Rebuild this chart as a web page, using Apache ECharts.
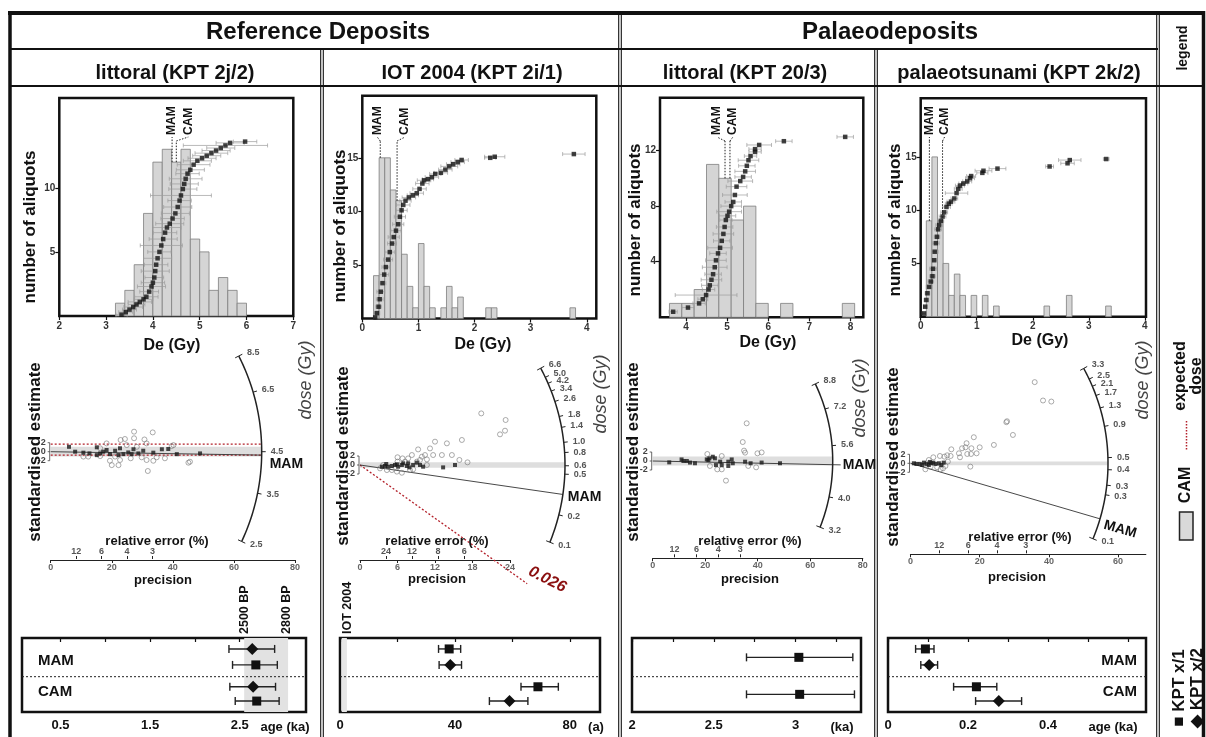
<!DOCTYPE html>
<html>
<head>
<meta charset="utf-8">
<title>De distributions, radial plots and ages</title>
<script src="https://cdn.jsdelivr.net/npm/echarts@6.0.0/dist/echarts.min.js"></script>
<style>
html,body{margin:0;padding:0;background:#fff;}
#chart{width:1206px;height:737px;}
</style>
</head>
<body>
<div id="chart"></div>
<script>
const FONT = '"Liberation Sans", Arial, Helvetica, sans-serif';
const INK = '#111';

// ---------- histograms: [bin start, bin end, aliquots] ----------
const histKPT2j2 = [[3.2,3.4,1],[3.4,3.6,2],[3.6,3.8,4],[3.8,4.0,8],[4.0,4.2,12],[4.2,4.4,13],[4.4,4.6,12],[4.6,4.8,13],[4.8,5.0,6],[5.0,5.2,5],[5.2,5.4,2],[5.4,5.6,3],[5.6,5.8,2],[5.8,6.0,1]];
const histKPT2i1 = [[0.2,0.3,4],[0.3,0.4,15],[0.4,0.5,15],[0.5,0.6,12],[0.6,0.7,11],[0.7,0.8,6],[0.8,0.9,3],[0.9,1.0,1],[1.0,1.1,7],[1.1,1.2,3],[1.2,1.3,1],[1.4,1.5,1],[1.5,1.6,3],[1.6,1.7,1],[1.7,1.8,2],[2.2,2.3,1],[2.3,2.4,1],[3.7,3.8,1]];
const histKPT203 = [[3.6,3.9,1],[3.9,4.2,1],[4.2,4.5,2],[4.5,4.8,11],[4.8,5.1,10],[5.1,5.4,7],[5.4,5.7,8],[5.7,6.0,1],[6.3,6.6,1],[7.8,8.1,1]];
const histKPT2k2 = [[0.1,0.2,9],[0.2,0.3,15],[0.3,0.4,9],[0.4,0.5,5],[0.5,0.6,2],[0.6,0.7,4],[0.7,0.8,2],[0.9,1.0,2],[1.1,1.2,2],[1.3,1.4,1],[2.2,2.3,1],[2.6,2.7,2],[3.3,3.4,1]];

// ---------- ranked De values: [De (Gy), rank position, error (Gy)] ----------
const rankKPT2j2 = [[3.33,0.1,0.12],[3.42,0.3,0.15],[3.5,0.5,0.15],[3.58,0.7,0.2],[3.65,0.9,0.18],[3.72,1.1,0.25],[3.8,1.3,0.2],[3.86,1.5,0.25],[3.92,1.9,0.2],[3.97,2.3,0.3],[4.0,2.6,0.25],[4.03,3.0,0.2],[4.05,3.5,0.3],[4.07,4.0,0.25],[4.1,4.5,0.3],[4.14,5.0,0.25],[4.18,5.5,0.45],[4.22,6.0,0.3],[4.26,6.5,0.25],[4.3,6.9,0.3],[4.36,7.2,0.3],[4.42,7.6,0.25],[4.48,8.0,0.3],[4.53,8.5,0.3],[4.57,9.0,0.25],[4.6,9.4,0.65],[4.64,9.9,0.3],[4.67,10.3,0.3],[4.7,10.7,0.35],[4.74,11.1,0.25],[4.8,11.4,0.3],[4.87,11.8,0.35],[4.95,12.1,0.3],[5.05,12.3,0.3],[5.15,12.5,0.3],[5.25,12.7,0.35],[5.35,12.9,0.3],[5.45,13.1,0.3],[5.55,13.3,0.9],[5.65,13.5,0.3],[5.97,13.6,0.25]];
const rankKPT2i1 = [[0.23,0.1,0.03],[0.26,0.5,0.05],[0.29,1.1,0.05],[0.31,1.8,0.06],[0.33,2.5,0.07],[0.36,3.3,0.06],[0.39,4.1,0.08],[0.42,4.8,0.07],[0.46,5.5,0.08],[0.49,6.2,0.09],[0.53,7.0,0.08],[0.56,7.6,0.1],[0.6,8.2,0.09],[0.64,8.8,0.1],[0.67,9.5,0.1],[0.7,10.1,0.1],[0.73,10.6,0.12],[0.77,11.0,0.1],[0.83,11.3,0.12],[0.9,11.5,0.1],[0.97,11.7,0.12],[1.02,12.1,0.12],[1.07,12.6,0.12],[1.1,12.9,0.12],[1.17,13.0,0.1],[1.24,13.2,0.12],[1.3,13.5,0.1],[1.4,13.6,0.12],[1.48,13.9,0.12],[1.55,14.2,0.15],[1.62,14.4,0.12],[1.7,14.6,0.12],[1.77,14.8,0.12],[2.28,15.0,0.1],[2.36,15.1,0.18],[3.77,15.35,0.2]];
const rankKPT203 = [[3.69,0.4,0.1],[4.05,0.7,0.15],[4.32,1.0,0.15],[4.41,1.3,0.12],[4.49,1.6,0.75],[4.55,2.0,0.15],[4.58,2.3,0.2],[4.62,2.7,0.25],[4.66,3.1,0.2],[4.7,3.6,0.3],[4.73,4.1,0.25],[4.78,4.6,0.2],[4.83,5.0,0.3],[4.87,5.5,0.2],[4.91,6.0,0.25],[4.94,6.5,0.2],[4.97,7.0,0.15],[5.01,7.3,0.2],[5.05,7.6,0.3],[5.1,8.0,0.25],[5.15,8.3,0.2],[5.19,8.8,0.3],[5.23,9.4,0.25],[5.32,9.8,0.3],[5.39,10.1,0.2],[5.44,10.5,0.25],[5.48,10.9,0.2],[5.52,11.3,0.25],[5.57,11.6,0.15],[5.68,11.9,0.15],[5.68,12.1,0.15],[5.78,12.4,0.3],[6.38,12.67,0.2],[7.87,12.98,0.2]];
const rankKPT2k2 = [[0.06,0.31,0.03],[0.08,0.94,0.03],[0.1,1.57,0.04],[0.12,2.2,0.04],[0.15,2.8,0.05],[0.18,3.3,0.05],[0.21,3.8,0.05],[0.22,4.5,0.06],[0.24,5.3,0.05],[0.25,6.1,0.06],[0.27,6.9,0.06],[0.29,7.5,0.05],[0.31,8.2,0.06],[0.33,8.6,0.06],[0.36,9.0,0.05],[0.39,9.4,0.06],[0.42,9.8,0.06],[0.46,10.3,0.07],[0.5,10.6,0.06],[0.54,10.8,0.07],[0.6,11.1,0.06],[0.64,11.6,0.2],[0.67,12.0,0.07],[0.7,12.3,0.08],[0.76,12.5,0.08],[0.83,12.7,0.08],[0.88,13.0,0.08],[0.9,13.2,0.08],[1.1,13.5,0.1],[1.12,13.7,0.15],[1.37,13.9,0.15],[2.3,14.1,0.07],[2.62,14.4,0.12],[2.66,14.7,0.2],[3.31,14.8,0.05]];

// ---------- age models, De (Gy) ----------
const mamDe = [4.41, 0.32, 4.95, 0.155];
const camDe = [4.50, 0.62, 5.07, 0.39];
const radialCentre = [4.50, 0.61, 5.07, 0.45];

// ---------- radial plots: [precision, standardised estimate] ----------
const radOpenKPT2j2 = [[27.3,8.2],[33.4,7.9],[27.3,5.5],[24.3,5.2],[22.9,4.8],[30.7,5.0],[18.3,3.4],[31.4,3.4],[40.2,2.7],[39.6,2.3],[28.2,2.0],[24.9,2.7],[16.2,1.4],[21.1,-2.0],[26.2,-2.7],[22.7,-3.4],[19.4,-3.7],[20.0,-5.5],[22.2,-5.5],[31.4,-3.4],[33.6,-3.7],[34.7,-2.3],[37.4,-2.7],[45.6,-4.1],[45.1,-4.5],[31.8,-7.9],[10.7,-2.0],[12.3,-2.0],[16.2,-1.8],[29.8,-2.3]];
const radFilledKPT2j2 = [[6.0,2.0],[8.0,0],[10.7,-0.4],[12.7,-0.7],[15.1,1.8],[16.2,-0.7],[18.3,0.7],[19.4,-1.0],[21.1,0.4],[22.7,1.4],[23.8,-1.0],[25.4,-0.3],[27.1,1.0],[28.7,-0.7],[30.3,0.4],[33.6,-0.4],[36.4,1.0],[38.5,1.1],[41.3,-1.0],[48.9,-0.7],[15.1,-1.4],[17.2,0],[22.2,-1.4],[26.5,-1.0]];
const radOpenKPT2i1 = [[19.4,36.7],[23.3,32.0],[23.2,24.4],[22.4,21.8],[12.0,16.6],[16.3,17.8],[13.9,15.4],[11.2,11.8],[11.7,7.1],[10.4,7.1],[9.9,5.9],[9.3,11.1],[8.3,7.1],[13.1,7.1],[14.7,7.1],[15.9,3.6],[17.2,1.9],[6.8,4.7],[7.7,4.7],[6.0,5.5],[6.0,2.4],[7.2,2.4],[9.1,2.4],[9.6,3.6],[10.7,4.0],[3.7,0],[4.3,-3.6],[5.1,-3.6],[5.9,-4.7],[6.7,-5.5],[8.0,-3.6],[8.5,-3.1],[10.7,0],[3.2,-2.4]];
const radFilledKPT2i1 = [[3.5,-1.2],[4.0,-0.7],[4.5,-1.2],[5.1,-0.7],[5.6,0],[6.1,-1.2],[6.7,0],[7.5,-0.7],[7.7,1.2],[8.5,0],[9.1,1.7],[9.6,0],[10.1,-1.2],[13.3,-1.7],[15.2,0],[5.9,0.5],[4.2,0.7],[6.9,1.2],[7.9,-1.7]];
const radOpenKPT203 = [[35.8,16.7],[34.3,8.4],[34.8,4.6],[35.2,3.7],[39.9,3.4],[41.5,3.8],[20.8,3.1],[26.3,2.2],[27.9,-8.7],[39.4,-2.8],[36.4,-2.2],[24.6,-3.7],[26.3,-3.7],[21.8,-2.2]];
const radFilledKPT203 = [[6.3,-0.6],[11.0,0.7],[11.7,0],[14.2,-0.7],[16.1,-1.0],[20.6,0.7],[21.6,1.2],[22.9,1.9],[23.7,1.2],[24.1,-1.8],[25.7,-0.3],[26.3,-1.8],[28.8,-2.2],[30.1,0.7],[30.5,-1.0],[35.2,-0.3],[37.3,-1.0],[41.5,-0.7],[48.5,-1.0],[21.2,0.4],[28.8,-0.3],[13.0,0]];
const radOpenKPT2k2 = [[35.9,85.3],[38.3,66.0],[40.7,64.9],[27.7,43.2],[27.9,44.2],[29.6,29.8],[18.3,27.4],[24.1,19.3],[16.2,21.1],[15.9,16.8],[17.6,15.8],[20.0,16.8],[19.1,10.5],[17.5,9.8],[16.4,9.8],[14.9,15.8],[14.0,10.5],[14.3,6.3],[11.8,14.7],[10.6,8.4],[11.6,7.7],[9.8,7.0],[8.5,7.7],[6.6,6.3],[5.3,3.5],[17.3,-3.5],[9.4,-5.3],[8.7,-6.3],[7.7,-4.2],[5.8,-3.5],[4.3,-6.3],[10.1,-2.8],[10.8,1.8]];
const radFilledKPT2k2 = [[1.0,0],[1.7,-0.7],[2.7,-0.7],[3.4,-1.8],[3.9,0.7],[4.6,-0.7],[5.3,-1.8],[6.0,0],[6.6,0.7],[7.2,-0.7],[8.2,0],[8.9,-1.8],[9.6,0.7],[5.6,1.4]];

// dose axis (Gy) on the radial arcs
const doseTicks1 = [8.5, 6.5, 4.5, 3.5, 2.5];
const doseTicks2 = [6.6, 5.0, 4.2, 3.4, 2.6, 1.8, 1.4, 1.0, 0.8, 0.6, 0.5, 0.2, 0.1];
const doseTicks3 = [8.8, 7.2, 5.6, 4.0, 3.2];
const doseTicks4 = [3.3, 2.5, 2.1, 1.7, 1.3, 0.9, 0.5, 0.4, 0.3, 0.25, 0.1];
// relative error (%) and precision ticks
const relErrTicks = [[12, 6, 4, 3], [24, 12, 8, 6], [12, 6, 4, 3], [12, 6, 4, 3]];
const precisionTicks = [[0, 20, 40, 60, 80], [0, 6, 12, 18, 24], [0, 20, 40, 60, 80], [0, 20, 40, 60]];
// expected dose
const expectedBandKPT2j2 = [3.1, -1.4];   // standardised estimate of the band edges
const expectedDoseIOT = 0.026;            // Gy

// histogram tick labels
const histXLabels = [[2, 3, 4, 5, 6, 7], [0, 1, 2, 3, 4], [4, 5, 6, 7, 8], [0, 1, 2, 3, 4]];
const histYLabels = [[5, 10], [5, 10, 15], [4, 8, 12], [5, 10, 15]];

// ---------- ages: [age, lower, upper] for MAM and CAM ----------
const ageKPT2j_x1 = [[2.68, 2.42, 2.92], [2.69, 2.45, 2.94]];   // ka
const ageKPT2j_x2 = [[2.64, 2.38, 2.89], [2.65, 2.39, 2.90]];
const ageKPT2i_x1 = [[38.0, 34.3, 42.0], [68.9, 63.0, 76.0]];   // a
const ageKPT2i_x2 = [[38.4, 34.5, 42.3], [59.0, 52.0, 65.4]];
const ageKPT20_x1 = [[3.02, 2.70, 3.35], [3.025, 2.70, 3.36]];  // ka
const ageKPT2k_x1 = [[0.0935, 0.069, 0.115], [0.221, 0.164, 0.272]]; // ka
const ageKPT2k_x2 = [[0.103, 0.082, 0.124], [0.277, 0.219, 0.334]];
const refPeriodKa = [2.55, 3.04];
const refPeriodLabels = ['2500 BP', '2800 BP'];
const iotEventYears = [0.6, 2.4];
const ageTickLabels = [[0.5, 1.5, 2.5], [0, 40, 80], [2, 2.5, 3], [0, 0.2, 0.4]];
const ageTicks = [[0.5, 1, 1.5, 2, 2.5, 3], [0, 20, 40, 60, 80], [2, 2.25, 2.5, 2.75, 3, 3.25], [0, 0.1, 0.2, 0.3, 0.4, 0.5, 0.6]];

// ---------- layout ----------
const histLayout = [
  {left: 59.3, top: 98, width: 234, height: 218, xMin: 2, xMax: 7, yMax: 17, mamDx: 0, camDx: 12},
  {left: 362.3, top: 95.7, width: 234, height: 222.8, xMin: 0, xMax: 4.17, yMax: 20.8, mamDx: -3, camDx: 8},
  {left: 660, top: 97.7, width: 203.3, height: 219.6, xMin: 3.37, xMax: 8.31, yMax: 15.8, mamDx: -8, camDx: 3},
  {left: 920.7, top: 98.3, width: 225.3, height: 218.4, xMin: 0, xMax: 4.02, yMax: 20.5, mamDx: 0, camDx: 2}
];
const radialLayout = [
  {ox: 50.7, oy: 451.7, sx: 3.054, k: 0.8, xMax: 80, yExt: 45, R: 211, axisY: 560, mamExt: 0, mamDx: 8, mamDy: 9, mamRot: 0},
  {ox: 360, oy: 465, sx: 6.25, k: 0.225, xMax: 24, yExt: 80, R: 205, axisY: 560, mamExt: 0, mamDx: 5, mamDy: 3, mamRot: 0},
  {ox: 652.7, oy: 461, sx: 2.625, k: 0.86, xMax: 80, yExt: 50, R: 180, axisY: 558.3, mamExt: 8, mamDx: 10, mamDy: 0, mamRot: 0},
  {ox: 910.5, oy: 463.3, sx: 3.46, k: 0.275, xMax: 68, yExt: 120, R: 197.5, axisY: 554.3, mamExt: 0, mamDx: 4, mamDy: 6, mamRot: -0.27}
];
const ageLayout = [
  {left: 22, width: 284, xMin: 0.07, xMax: 3.24, slots1: [1.6, 3.75], slots2: [0.65, 2.9]},
  {left: 340, width: 260, xMin: 0, xMax: 90.5, slots1: [0.65, 2.9], slots2: [1.6, 3.75]},
  {left: 632, width: 229, xMin: 2, xMax: 3.4, slots1: [1.15, 3.35], slots2: []},
  {left: 888, width: 258, xMin: 0, xMax: 0.645, slots1: [0.65, 2.9], slots2: [1.6, 3.75]}
];
const AGE_TOP = 638, AGE_H = 74, AGE_ROWS = 4.4, AGE_SPLIT = 2.3;

const histPanels = [
  {bins: histKPT2j2, rank: rankKPT2j2},
  {bins: histKPT2i1, rank: rankKPT2i1},
  {bins: histKPT203, rank: rankKPT203},
  {bins: histKPT2k2, rank: rankKPT2k2}
];
const radialPanels = [
  {open: radOpenKPT2j2, filled: radFilledKPT2j2, ticks: doseTicks1, expectedBand: expectedBandKPT2j2},
  {open: radOpenKPT2i1, filled: radFilledKPT2i1, ticks: doseTicks2, expectedDose: expectedDoseIOT},
  {open: radOpenKPT203, filled: radFilledKPT203, ticks: doseTicks3},
  {open: radOpenKPT2k2, filled: radFilledKPT2k2, ticks: doseTicks4}
];
const agePanels = [
  {x1: ageKPT2j_x1, x2: ageKPT2j_x2},
  {x1: ageKPT2i_x1, x2: ageKPT2i_x2},
  {x1: ageKPT20_x1, x2: []},
  {x1: ageKPT2k_x1, x2: ageKPT2k_x2}
];

// ---------- helpers ----------
function ln(x1, y1, x2, y2, stroke, w, dash) {
  return {type: 'line', shape: {x1, y1, x2, y2}, style: {stroke, lineWidth: w, lineDash: dash || null}};
}
function tx(x, y, text, font, o) {
  o = o || {};
  const a = o.align || 'center', v = o.va || 'middle';
  return {type: 'text', x, y, rotation: o.rot || 0, z: o.z || 100, silent: true,
    style: {text, font, fill: o.fill || INK, align: a, verticalAlign: v, textAlign: a, textVerticalAlign: v}};
}

const grid = [], xAxis = [], yAxis = [], series = [];
function addGrid(g) {
  grid.push(Object.assign({containLabel: false, outerBoundsMode: 'none'}, g));
  return grid.length - 1;
}

// ---------- histograms with ranked De ----------
histPanels.forEach((h, i) => {
  const L = histLayout[i];
  const gi = addGrid({left: L.left, top: L.top, width: L.width, height: L.height, show: true,
    borderColor: INK, borderWidth: 2.5, backgroundColor: 'transparent'});
  const xi = xAxis.length, yi = yAxis.length;
  xAxis.push({gridIndex: gi, type: 'value', min: L.xMin, max: L.xMax, splitLine: {show: false},
    axisLine: {show: false},
    axisTick: {show: true, length: 4, customValues: histXLabels[i], lineStyle: {color: INK, width: 1.2}},
    axisLabel: {customValues: histXLabels[i], fontFamily: FONT, fontWeight: 'bold', fontSize: 10, color: '#333', margin: 5}});
  yAxis.push({gridIndex: gi, type: 'value', min: 0, max: L.yMax, splitLine: {show: false},
    axisLine: {show: false},
    axisTick: {show: true, length: 4, customValues: histYLabels[i], lineStyle: {color: INK, width: 1.2}},
    axisLabel: {customValues: histYLabels[i], fontFamily: FONT, fontWeight: 'bold', fontSize: 10, color: '#333', margin: 4}});

  series.push({type: 'custom', xAxisIndex: xi, yAxisIndex: yi, data: h.bins, z: 2, silent: true,
    renderItem: (p, api) => {
      const a = api.coord([api.value(0), api.value(2)]);
      const b = api.coord([api.value(1), 0]);
      return {type: 'rect', shape: {x: a[0], y: a[1], width: b[0] - a[0], height: b[1] - a[1]},
        style: {fill: '#d5d5d5', stroke: '#7d7d7d', lineWidth: 0.8}};
    }});
  series.push({type: 'custom', xAxisIndex: xi, yAxisIndex: yi, data: h.rank, z: 3, silent: true,
    renderItem: (p, api) => {
      const de = api.value(0), y = api.value(1), e = api.value(2);
      const l = api.coord([de - e, y]), r = api.coord([de + e, y]);
      const st = {stroke: '#9c9c9c', lineWidth: 0.7};
      return {type: 'group', children: [
        {type: 'line', shape: {x1: l[0], y1: l[1], x2: r[0], y2: r[1]}, style: st},
        {type: 'line', shape: {x1: l[0], y1: l[1] - 2, x2: l[0], y2: l[1] + 2}, style: st},
        {type: 'line', shape: {x1: r[0], y1: r[1] - 2, x2: r[0], y2: r[1] + 2}, style: st}
      ]};
    }});
  series.push({type: 'scatter', xAxisIndex: xi, yAxisIndex: yi, data: h.rank.map(d => [d[0], d[1]]),
    symbol: 'rect', symbolSize: 4.5, itemStyle: {color: '#111'}, z: 4, silent: true, animation: false});

  // MAM / CAM markers
  const marks = [[mamDe[i], 'MAM', L.mamDx], [camDe[i], 'CAM', L.camDx]];
  series.push({type: 'custom', xAxisIndex: xi, yAxisIndex: yi, data: marks.map(m => [m[0]]), z: 5, silent: true,
    renderItem: (p, api) => {
      const m = marks[p.dataIndex];
      const v = m[0];
      const bin = h.bins.find(b => v >= b[0] && v < b[1]);
      const base = api.coord([v, bin ? bin[2] : 0]);
      const kinkY = 141, lx = base[0] + m[2];
      const dash = [1.5, 1.5];
      return {type: 'group', children: [
        ln(base[0], base[1], base[0], kinkY, '#222', 1, dash),
        ln(base[0], kinkY, lx, kinkY - 4, '#222', 1, dash),
        {type: 'text', x: lx, y: kinkY - 6, rotation: Math.PI / 2,
          style: {text: m[1], font: 'bold 12px ' + FONT, fill: INK, align: 'left', verticalAlign: 'middle', textAlign: 'left', textVerticalAlign: 'middle'}}
      ]};
    }});
});

// ---------- radial plots ----------
function radialFrame(L, P, centre, mam) {
  return function (params, api) {
    const o = api.coord([0, 0]);
    const sxPx = api.coord([1, 0])[0] - o[0];
    const dir = D => {
      const q = api.coord([1, Math.log(D / centre)]);
      const dx = q[0] - o[0], dy = q[1] - o[1], n = Math.hypot(dx, dy);
      return [dx / n, dy / n];
    };
    const at = (u, r) => [o[0] + u[0] * r, o[1] + u[1] * r];
    const R = L.R, xEnd = R / sxPx, kids = [];

    kids.push({type: 'polygon', shape: {points: [api.coord([0, 2]), api.coord([xEnd, 2]), api.coord([xEnd, -2]), api.coord([0, -2])]},
      style: {fill: '#dedede'}});

    if (P.expectedBand) {
      P.expectedBand.forEach(v => {
        const a = api.coord([0, v]), b = api.coord([xEnd, v]);
        kids.push(ln(a[0], a[1], b[0], b[1], '#b3202a', 1.3, [2, 2]));
      });
    }
    if (P.expectedDose) {
      const u = dir(P.expectedDose), e = at(u, R), t = at(u, R + 14);
      kids.push(ln(o[0], o[1], e[0], e[1], '#b3202a', 1.3, [2, 2]));
      // label sits just above the end of the dotted line
      kids.push({type: 'text', x: t[0] + u[1] * 15, y: t[1] - u[0] * 15, rotation: -Math.atan2(u[1], u[0]) * 0.75,
        style: {text: String(P.expectedDose), font: 'italic bold 16px ' + FONT, fill: '#8b1010',
          align: 'center', verticalAlign: 'middle', textAlign: 'center', textVerticalAlign: 'middle'}});
    }

    const um = dir(mam), me = at(um, R + L.mamExt), ma = at(um, R);
    kids.push(ln(o[0], o[1], me[0], me[1], '#333', 0.9));
    kids.push({type: 'text', x: ma[0] + L.mamDx, y: ma[1] + L.mamDy, rotation: L.mamRot,
      style: {text: 'MAM', font: 'bold 14px ' + FONT, fill: INK, align: 'left', verticalAlign: 'middle', textAlign: 'left', textVerticalAlign: 'middle'}});

    // dose arc
    const u1 = dir(P.ticks[0]), u2 = dir(P.ticks[P.ticks.length - 1]);
    const a1 = Math.atan2(u1[1], u1[0]), a2 = Math.atan2(u2[1], u2[0]);
    const pts = [];
    for (let s = 0; s <= 60; s++) {
      const a = a1 + (a2 - a1) * s / 60;
      pts.push([o[0] + R * Math.cos(a), o[1] + R * Math.sin(a)]);
    }
    kids.push({type: 'polyline', shape: {points: pts}, style: {stroke: '#222', lineWidth: 1.5, fill: null}});
    P.ticks.forEach((D, j) => {
      const u = dir(D), a = at(u, R), b = at(u, R + 4), t = at(u, R + 8);
      kids.push(ln(a[0], a[1], b[0], b[1], '#222', 1));
      if (j === 0 || j === P.ticks.length - 1) {
        const c = at(u, R - 4);
        kids.push(ln(a[0], a[1], c[0], c[1], '#222', 1));
      }
      kids.push({type: 'text', x: t[0] + 1, y: t[1],
        style: {text: D.toFixed(1), font: 'bold 9px ' + FONT, fill: '#555', align: 'left', verticalAlign: 'middle', textAlign: 'left', textVerticalAlign: 'middle'}});
    });

    // z-scale at the origin
    kids.push(ln(o[0] - 1, o[1] - 9, o[0] - 1, o[1] + 9, '#444', 0.8));
    [[2, -9], [0, 0], [-2, 9]].forEach(z => {
      kids.push(ln(o[0] - 3, o[1] + z[1], o[0] - 1, o[1] + z[1], '#444', 0.8));
      kids.push({type: 'text', x: o[0] - 5, y: o[1] + z[1],
        style: {text: String(z[0]), font: 'bold 9px ' + FONT, fill: '#444', align: 'right', verticalAlign: 'middle', textAlign: 'right', textVerticalAlign: 'middle'}});
    });
    return {type: 'group', children: kids};
  };
}

radialPanels.forEach((P, i) => {
  const L = radialLayout[i];
  const sy = L.k * L.sx;
  const gi = addGrid({left: L.ox, top: L.oy - L.yExt * sy, width: L.xMax * L.sx, height: 2 * L.yExt * sy});
  const xi = xAxis.length, yi = yAxis.length;
  xAxis.push({gridIndex: gi, type: 'value', min: 0, max: L.xMax, show: false});
  yAxis.push({gridIndex: gi, type: 'value', min: -L.yExt, max: L.yExt, show: false});
  series.push({type: 'custom', xAxisIndex: xi, yAxisIndex: yi, data: [[0, 0]], z: 2, silent: true,
    renderItem: radialFrame(L, P, radialCentre[i], mamDe[i])});
  series.push({type: 'scatter', xAxisIndex: xi, yAxisIndex: yi, data: P.open, symbol: 'circle', symbolSize: 5,
    itemStyle: {color: 'rgba(255,255,255,0)', borderColor: '#7a7a7a', borderWidth: 0.8}, z: 3, silent: true});
  series.push({type: 'scatter', xAxisIndex: xi, yAxisIndex: yi, data: P.filled, symbol: 'rect', symbolSize: 4,
    itemStyle: {color: '#1a1a1a'}, z: 4, silent: true});

  // precision axis with relative error above it
  const gb = addGrid({left: L.ox, top: L.axisY - 1, width: L.xMax * L.sx, height: 1});
  const rel = relErrTicks[i].map(r => 100 / r);
  xAxis.push({gridIndex: gb, type: 'value', min: 0, max: L.xMax, position: 'bottom', splitLine: {show: false},
    axisLine: {show: true, lineStyle: {color: '#222', width: 1.2}},
    axisTick: {show: true, length: 3, customValues: precisionTicks[i], lineStyle: {color: '#222'}},
    axisLabel: {customValues: precisionTicks[i], fontFamily: FONT, fontSize: 9, fontWeight: 'bold', color: '#666', margin: 3}});
  xAxis.push({gridIndex: gb, type: 'value', min: 0, max: L.xMax, position: 'top', splitLine: {show: false},
    axisLine: {show: false},
    axisTick: {show: true, length: 3, customValues: rel, lineStyle: {color: '#222'}},
    axisLabel: {customValues: rel, formatter: v => String(Math.round(100 / v)), fontFamily: FONT, fontSize: 9, fontWeight: 'bold', color: '#555', margin: 3}});
  yAxis.push({gridIndex: gb, type: 'value', min: 0, max: 1, show: false});
});

// ---------- ages ----------
function ageSeries(xi, yi, data, slots, shape) {
  return {type: 'custom', xAxisIndex: xi, yAxisIndex: yi, data, z: 6, silent: true,
    renderItem: (p, api) => {
      const s = slots[p.dataIndex];
      const c = api.coord([api.value(0), s]), l = api.coord([api.value(1), s]), r = api.coord([api.value(2), s]);
      const st = {stroke: '#222', lineWidth: 1.4};
      const kids = [
        {type: 'line', shape: {x1: l[0], y1: c[1], x2: r[0], y2: c[1]}, style: st},
        {type: 'line', shape: {x1: l[0], y1: c[1] - 4, x2: l[0], y2: c[1] + 4}, style: st},
        {type: 'line', shape: {x1: r[0], y1: c[1] - 4, x2: r[0], y2: c[1] + 4}, style: st}
      ];
      if (shape === 'square') {
        kids.push({type: 'rect', shape: {x: c[0] - 4.5, y: c[1] - 4.5, width: 9, height: 9}, style: {fill: '#111'}});
      } else {
        kids.push({type: 'polygon', shape: {points: [[c[0], c[1] - 6], [c[0] + 6, c[1]], [c[0], c[1] + 6], [c[0] - 6, c[1]]]}, style: {fill: '#111'}});
      }
      return {type: 'group', children: kids};
    }};
}

agePanels.forEach((A, i) => {
  const L = ageLayout[i];
  const gi = addGrid({left: L.left, top: AGE_TOP, width: L.width, height: AGE_H, show: true,
    borderColor: INK, borderWidth: 2.5, backgroundColor: 'transparent'});
  const xi = xAxis.length, yi = yAxis.length;
  xAxis.push({gridIndex: gi, type: 'value', min: L.xMin, max: L.xMax, splitLine: {show: false},
    axisLine: {show: false},
    axisTick: {show: true, length: 4, customValues: ageTicks[i], lineStyle: {color: INK, width: 1.2}},
    axisLabel: {customValues: ageTickLabels[i], fontFamily: FONT, fontWeight: 'bold', fontSize: 13, color: INK, margin: 7}});
  yAxis.push({gridIndex: gi, type: 'value', min: 0, max: AGE_ROWS, inverse: true, show: false});

  // MAM | CAM separator
  series.push({type: 'custom', xAxisIndex: xi, yAxisIndex: yi, data: [[L.xMin, AGE_SPLIT]], z: 3, silent: true,
    renderItem: (p, api) => {
      const a = api.coord([L.xMin, AGE_SPLIT]), b = api.coord([L.xMax, AGE_SPLIT]);
      return ln(a[0], a[1], b[0], b[1], '#222', 1, [2, 2]);
    }});
  series.push(ageSeries(xi, yi, A.x1, L.slots1, 'square'));
  if (A.x2.length) series.push(ageSeries(xi, yi, A.x2, L.slots2, 'diamond'));

  if (i === 0 || i === 1) {
    const band = i === 0 ? refPeriodKa : iotEventYears;
    series.push({type: 'custom', xAxisIndex: xi, yAxisIndex: yi, data: [band], z: 1, silent: true,
      renderItem: (p, api) => {
        const a = api.coord([band[0], 0]), b = api.coord([band[1], AGE_ROWS]);
        const kids = [{type: 'rect', shape: {x: a[0], y: a[1], width: b[0] - a[0], height: b[1] - a[1]},
          style: {fill: i === 0 ? '#e2e2e2' : '#e6e6e6'}}];
        const lab = (x, s) => ({type: 'text', x, y: AGE_TOP - 4, rotation: Math.PI / 2,
          style: {text: s, font: 'bold 12.5px ' + FONT, fill: INK, align: 'left', verticalAlign: 'middle', textAlign: 'left', textVerticalAlign: 'middle'}});
        if (i === 0) {
          kids.push(lab(a[0], refPeriodLabels[0]));
          kids.push(lab(b[0] - 2, refPeriodLabels[1]));
        } else {
          kids.push(lab((a[0] + b[0]) / 2 + 3, 'IOT 2004'));
        }
        return {type: 'group', children: kids};
      }});
  }
});

// ---------- table frame and static text ----------
const g = [];
const push = e => g.push(Object.assign({z: 100, silent: true}, e));
function hLine(x1, x2, y, w) { push(ln(x1, y, x2, y, INK, w)); }
function vDouble(x, y1, y2) { push(ln(x - 1.3, y1, x - 1.3, y2, INK, 1.1)); push(ln(x + 1.3, y1, x + 1.3, y2, INK, 1.1)); }
hLine(8, 1205, 13, 4);
push(ln(10, 11, 10, 737, INK, 3.5));
push(ln(1203.5, 11, 1203.5, 737, INK, 3.5));
hLine(10, 1158, 49, 1.8);
hLine(10, 1203, 86, 2.2);
vDouble(322, 49, 737);
vDouble(620, 13, 737);
vDouble(876, 49, 737);
vDouble(1158, 13, 737);

const H1 = 'bold 24px ' + FONT, H2 = 'bold 20px ' + FONT;
g.push(tx(318, 32, 'Reference Deposits', H1));
g.push(tx(890, 32, 'Palaeodeposits', H1));
g.push(tx(1183, 48, 'legend', 'bold 14px ' + FONT, {rot: Math.PI / 2}));
g.push(tx(175, 73, 'littoral (KPT 2j/2)', H2));
g.push(tx(472, 73, 'IOT 2004 (KPT 2i/1)', H2));
g.push(tx(745, 73, 'littoral (KPT 20/3)', H2));
g.push(tx(1019, 73, 'palaeotsunami (KPT 2k/2)', H2));

const AX = 'bold 17px ' + FONT, AX2 = 'bold 16px ' + FONT, AX3 = 'bold 13px ' + FONT;
[[30, 227], [340, 226], [635, 220], [895, 220]].forEach(p => g.push(tx(p[0], p[1], 'number of aliquots', AX, {rot: Math.PI / 2})));
[[172, 346], [483, 345], [768, 343], [1040, 341]].forEach(p => g.push(tx(p[0], p[1], 'De (Gy)', AX2)));
[[35, 452], [343, 456], [633, 452], [893, 457]].forEach(p => g.push(tx(p[0], p[1], 'standardised estimate', AX, {rot: Math.PI / 2})));
[[306, 380], [601, 394], [860, 398], [1143, 380]].forEach(p => g.push(tx(p[0], p[1], 'dose (Gy)', 'italic 18px ' + FONT, {rot: Math.PI / 2, fill: '#444'})));
[[157, 541], [437, 541], [750, 541], [1020, 537]].forEach(p => g.push(tx(p[0], p[1], 'relative error (%)', AX3)));
[[163, 580], [437, 579], [750, 579], [1017, 577]].forEach(p => g.push(tx(p[0], p[1], 'precision', AX3)));

const AGE_F = 'bold 15px ' + FONT;
g.push(tx(38, 661, 'MAM', AGE_F, {align: 'left'}));
g.push(tx(38, 692, 'CAM', AGE_F, {align: 'left'}));
g.push(tx(1137, 661, 'MAM', AGE_F, {align: 'right'}));
g.push(tx(1137, 692, 'CAM', AGE_F, {align: 'right'}));
g.push(tx(285, 727, 'age (ka)', AX3));
g.push(tx(596, 727, '(a)', AX3));
g.push(tx(842, 727, '(ka)', AX3));
g.push(tx(1113, 727, 'age (ka)', AX3));

// legend column
const LG = 'bold 16px ' + FONT;
g.push(tx(1181, 376, 'expected', LG, {rot: Math.PI / 2}));
g.push(tx(1197, 376, 'dose', LG, {rot: Math.PI / 2}));
push(ln(1186.5, 421, 1186.5, 450, '#b3202a', 1.5, [1.5, 1.5]));
g.push(tx(1186, 485, 'CAM', LG, {rot: Math.PI / 2}));
push({type: 'rect', shape: {x: 1179.5, y: 512, width: 13.5, height: 28}, style: {fill: '#d9d9d9', stroke: '#222', lineWidth: 1.5}});
g.push(tx(1179, 688, '\u25A0 KPT x/1', 'bold 17px ' + FONT, {rot: Math.PI / 2}));
g.push(tx(1197, 688, '\u25C6 KPT x/2', 'bold 17px ' + FONT, {rot: Math.PI / 2}));

const chart = echarts.init(document.getElementById('chart'), null, {renderer: 'canvas', width: 1206, height: 737});
chart.setOption({
  animation: false,
  backgroundColor: '#fff',
  grid, xAxis, yAxis, series,
  graphic: {elements: g}
});
</script>
</body>
</html>
